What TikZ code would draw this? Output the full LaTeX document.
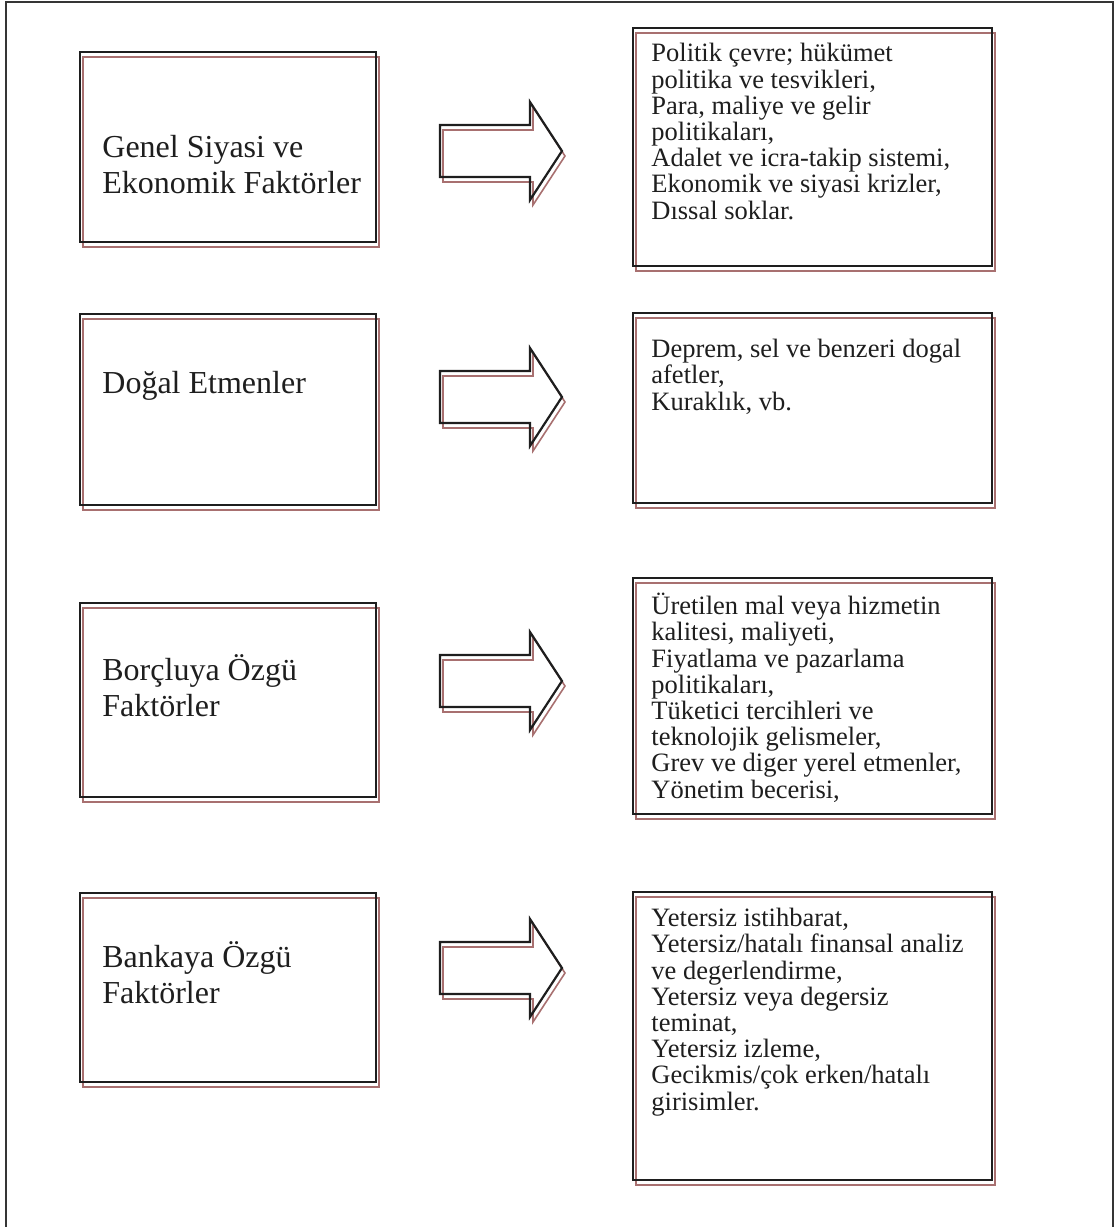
\documentclass[tikz,border=0pt]{standalone}
\usepackage{fontspec}
\setmainfont{Liberation Serif}
\definecolor{shadowbrown}{RGB}{168,112,112}
\definecolor{ink}{RGB}{30,30,30}
\begin{document}
\begin{tikzpicture}[x=0.5pt,y=-0.5pt,
  outerframe/.style={draw=ink!90, line width=1pt},
  boxline/.style={draw=ink, line width=1.25pt, inner sep=0pt, rectangle},
  boxshadow/.style={draw=shadowbrown, line width=1pt, inner sep=0pt, rectangle},
  lefttext/.style={font=\fontsize{16}{17.6}\selectfont, align=left, inner sep=0pt, anchor=base west, text=ink},
  righttext/.style={font=\fontsize{13.25}{13.1}\selectfont, align=left, inner sep=0pt, anchor=base west, text=ink},
  barrow/.pic={
    \draw[shadowbrown, line width=0.8pt, shift={(3,5)}]
      (-122,-26) -- (-32,-26) -- (-32,-49) -- (0,0) -- (-32,49) -- (-32,26) -- (-122,26) -- cycle;
    \draw[ink, line width=1.1pt]
      (-122,-26) -- (-32,-26) -- (-32,-49) -- (0,0) -- (-32,49) -- (-32,26) -- (-122,26) -- cycle;
  }]
\useasboundingbox (0,0) rectangle (1119,1227);

% outer frame, open at the bottom
\draw[outerframe] (6,1227) -- (6,2) -- (1113,2) -- (1113,1227);

% left column: factor groups (shadow first, frame on top)
\node[boxshadow, minimum width=148pt, minimum height=95pt]   (l1s) at (231,152)   {};
\node[boxline,   minimum width=148pt, minimum height=95pt]   (l1)  at (228,147)   {};
\node[boxshadow, minimum width=148pt, minimum height=95.5pt] (l2s) at (231,414.5) {};
\node[boxline,   minimum width=148pt, minimum height=95.5pt] (l2)  at (228,409.5) {};
\node[boxshadow, minimum width=148pt, minimum height=97pt]   (l3s) at (231,705)   {};
\node[boxline,   minimum width=148pt, minimum height=97pt]   (l3)  at (228,700)   {};
\node[boxshadow, minimum width=148pt, minimum height=94.5pt] (l4s) at (231,992.5) {};
\node[boxline,   minimum width=148pt, minimum height=94.5pt] (l4)  at (228,987.5) {};

% right column: details of each group
\node[boxshadow, minimum width=179.5pt, minimum height=119pt] (r1s) at (815.5,152)  {};
\node[boxline,   minimum width=179.5pt, minimum height=119pt] (r1)  at (812.5,147)  {};
\node[boxshadow, minimum width=179.5pt, minimum height=95pt]  (r2s) at (815.5,413)  {};
\node[boxline,   minimum width=179.5pt, minimum height=95pt]  (r2)  at (812.5,408)  {};
\node[boxshadow, minimum width=179.5pt, minimum height=118pt] (r3s) at (815.5,701)  {};
\node[boxline,   minimum width=179.5pt, minimum height=118pt] (r3)  at (812.5,696)  {};
\node[boxshadow, minimum width=179.5pt, minimum height=144pt] (r4s) at (815.5,1041) {};
\node[boxline,   minimum width=179.5pt, minimum height=144pt] (r4)  at (812.5,1036) {};

% block arrows between the columns (tip positions)
\pic at (562,151) {barrow};
\pic at (562,397) {barrow};
\pic at (562,681) {barrow};
\pic at (562,968) {barrow};

% left texts (anchored at the baseline of the last line)
\node[lefttext] (lt1) at (102,193) {Genel Siyasi ve\\Ekonomik Faktörler};
\node[lefttext] (lt2) at (102,393) {Doğal Etmenler};
\node[lefttext] (lt3) at (102,716) {Borçluya Özgü\\Faktörler};
\node[lefttext] (lt4) at (102,1003) {Bankaya Özgü\\Faktörler};

% right texts (anchored at the baseline of the last line)
\node[righttext] (rt1) at (651,219) {Politik çevre; hükümet\\politika ve tesvikleri,\\Para, maliye ve gelir\\politikaları,\\Adalet ve icra-takip sistemi,\\Ekonomik ve siyasi krizler,\\Dıssal soklar.};
\node[righttext] (rt2) at (651,410) {Deprem, sel ve benzeri dogal\\afetler,\\Kuraklık, vb.};
\node[righttext] (rt3) at (651,798) {Üretilen mal veya hizmetin\\kalitesi, maliyeti,\\Fiyatlama ve pazarlama\\politikaları,\\Tüketici tercihleri ve\\teknolojik gelismeler,\\Grev ve diger yerel etmenler,\\Yönetim becerisi,};
\node[righttext] (rt4) at (651,1110) {Yetersiz istihbarat,\\Yetersiz/hatalı finansal analiz\\ve degerlendirme,\\Yetersiz veya degersiz\\teminat,\\Yetersiz izleme,\\Gecikmis/çok erken/hatalı\\girisimler.};
\end{tikzpicture}
\end{document}
